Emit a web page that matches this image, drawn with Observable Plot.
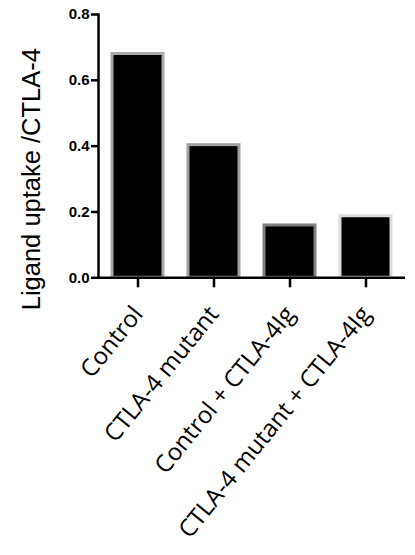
<!DOCTYPE html>
<html>
<head>
<meta charset="utf-8">
<script src="https://cdn.jsdelivr.net/npm/d3@7"></script>
<script src="https://cdn.jsdelivr.net/npm/@observablehq/plot@0.6"></script>
<style>
  html, body { margin: 0; padding: 0; background: #fff; }
</style>
</head>
<body>
<div id="chart"></div>
<script>
const categories = ["Control", "CTLA-4 mutant", "Control + CTLA-4Ig", "CTLA-4 mutant + CTLA-4Ig"];
const values = [0.68, 0.403, 0.159, 0.187];
const outlineColors = ["#a8a8a8", "#a0a0a0", "#808080", "#dcdcdc"];
const yTicks = [0, 0.2, 0.4, 0.6, 0.8];
const yLabel = "Ligand uptake /CTLA-4";

const data = categories.map((c, i) => ({category: c, value: values[i], outline: outlineColors[i]}));

const chart = Plot.plot({
  width: 415,
  height: 555,
  marginLeft: 98,
  marginRight: 10,
  marginTop: 14,
  marginBottom: 277.7,
  style: {background: "#fff", color: "#000"},
  x: {domain: categories, paddingInner: 0.335, paddingOuter: 0.1675, axis: null},
  y: {domain: [0, 0.8], axis: null},
  marks: [
    Plot.barY(data, {x: "category", y: "value", fill: "#000", stroke: "outline", strokeWidth: 3}),
    Plot.ruleY([0], {stroke: "#000", strokeWidth: 2.5}),
    Plot.frame({anchor: "left", stroke: "#000", strokeWidth: 2.5}),
    Plot.axisY({
      ticks: yTicks, tickFormat: d3.format(".1f"), tickSize: 7, tickPadding: 2,
      strokeWidth: 2.5, fontSize: 15, fontWeight: "bold", fontFamily: "Liberation Sans, Arial, sans-serif",
      label: null
    }),
    Plot.axisX({
      tickSize: 10, tickPadding: 22, tickRotate: -51, strokeWidth: 2.5,
      fontSize: 24, fontFamily: "Open Sans, sans-serif", label: null
    }),
    Plot.text([yLabel], {
      frameAnchor: "left", textAnchor: "middle", rotate: -90, dx: -67, dy: 33,
      fontSize: 25.5, fontFamily: "Liberation Sans, Arial, sans-serif", fill: "#000"
    })
  ]
});
document.getElementById("chart").appendChild(chart);
</script>
</body>
</html>
